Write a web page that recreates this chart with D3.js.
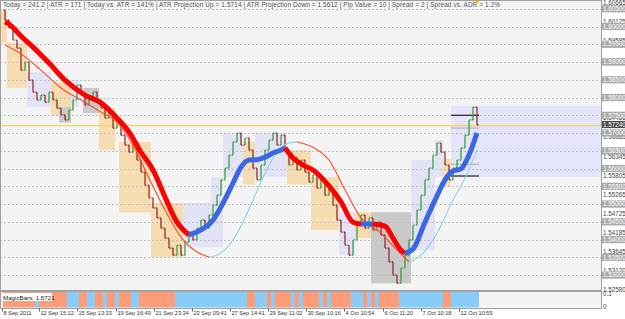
<!DOCTYPE html>
<html>
<head>
<meta charset="utf-8">
<script src="https://cdn.jsdelivr.net/npm/d3@7"></script>
<style>
  html, body { margin: 0; padding: 0; background: #fff; }
  svg { display: block; font-family: "Liberation Sans", Arial, sans-serif; }
</style>
</head>
<body>
<div id="vis-display"></div>
<script>
// MagicBars range-bar chart (GBPUSD-like), 8 Sep – 12 Oct 2011.
// Bars are indexed 0..118; prices.

const HEADER = [
  "Today = 241.2", "ATR = 171", "Today vs. ATR = 141%",
  "ATR Projection Up = 1.5714", "ATR Projection Down = 1.5612",
  "Pip Value = 10", "Spread = 2", "Spread vs. ADR = 1.2%"
];

const FIRST_OPEN = 1.6046;
const closes = [
  1.6018, 1.5996, 1.5962, 1.5939, 1.5877, 1.5900, 1.5849, 1.5815, 1.5793, 1.5807,
  1.5787, 1.5815, 1.5793, 1.5770, 1.5751, 1.5737, 1.5765, 1.5793, 1.5835, 1.5807,
  1.5779, 1.5799, 1.5815, 1.5793, 1.5770, 1.5742, 1.5759, 1.5714, 1.5731, 1.5694,
  1.5666, 1.5646, 1.5666, 1.5624, 1.5590, 1.5553, 1.5517, 1.5489, 1.5461, 1.5432,
  1.5404, 1.5376, 1.5356, 1.5384, 1.5356, 1.5393, 1.5421, 1.5399, 1.5432, 1.5455,
  1.5432, 1.5469, 1.5497, 1.5525, 1.5568, 1.5601, 1.5638, 1.5675, 1.5700, 1.5666,
  1.5686, 1.5652, 1.5601, 1.5568, 1.5610, 1.5652, 1.5680, 1.5700, 1.5666, 1.5694,
  1.5652, 1.5610, 1.5630, 1.5596, 1.5624, 1.5590, 1.5562, 1.5582, 1.5545, 1.5568,
  1.5525, 1.5545, 1.5497, 1.5455, 1.5421, 1.5384, 1.5356, 1.5399, 1.5441, 1.5469,
  1.5432, 1.5461, 1.5427, 1.5449, 1.5413, 1.5376, 1.5337, 1.5300, 1.5277, 1.5320,
  1.5356, 1.5399, 1.5441, 1.5483, 1.5525, 1.5568, 1.5601, 1.5638, 1.5672, 1.5646,
  1.5610, 1.5568, 1.5601, 1.5624, 1.5658, 1.5694, 1.5737, 1.5773, 1.5723
];

// thick staircase average: [bar, price]
const fastMA = [
  [0, 1.6013], [1, 1.6007], [4, 1.5973], [7, 1.5942], [11, 1.5897], [15, 1.5849],
  [20, 1.5807], [24, 1.5785], [28, 1.5742], [31, 1.5703], [34, 1.5646], [37, 1.5596],
  [40, 1.5520], [43, 1.5449], [46, 1.5413], [49, 1.5427], [52, 1.5455], [54, 1.5492],
  [57, 1.5559], [59, 1.5604], [61, 1.5624], [63, 1.5625], [65, 1.5632], [67, 1.5644],
  [69, 1.5652], [70, 1.5658], [72, 1.5630], [75, 1.5607], [77, 1.5596], [81, 1.5551],
  [84, 1.5506], [87, 1.5449], [89, 1.5444], [92, 1.5444], [95, 1.5438], [97, 1.5404],
  [99, 1.5370], [100, 1.5362], [102, 1.5373], [105, 1.5449], [108, 1.5523], [110, 1.5568],
  [112, 1.5593], [114, 1.5599], [116, 1.5638], [118, 1.5700]
];

// thin slow average: [bar, price]
const slowMA = [
  [0, 1.5948], [4, 1.5923], [9, 1.5877], [14, 1.5827], [19, 1.5793], [24, 1.5759],
  [28, 1.5731], [32, 1.5666], [36, 1.5573], [40, 1.5483], [44, 1.5407], [48, 1.5365],
  [51, 1.5351], [53, 1.5356], [56, 1.5384], [59, 1.5438], [62, 1.5511], [65, 1.5587],
  [68, 1.5646], [71, 1.5672], [73, 1.5675], [77, 1.5660], [81, 1.5624], [85, 1.5540],
  [89, 1.5461], [94, 1.5418], [98, 1.5370], [101, 1.5337], [104, 1.5356], [108, 1.5418],
  [112, 1.5511], [115, 1.5573], [118, 1.5652]
];

// daily range boxes: [firstBar, lastBar, high, low, kind]
const dayBoxes = [
  [-1, 0, 1.6046, 1.5954, "dn"], [1, 5, 1.5954, 1.5827, "dn"], [6, 11, 1.5872, 1.5773, "up"],
  [12, 16, 1.5844, 1.5750, "dn"], [14, 16, 1.5773, 1.5729, "flat"], [17, 18, 1.5849, 1.5773, "up"],
  [20, 23, 1.5827, 1.5756, "flat"], [24, 27, 1.5770, 1.5652, "dn"], [29, 36, 1.5675, 1.5477, "dn"],
  [37, 44, 1.5503, 1.5351, "dn"], [45, 51, 1.5503, 1.5379, "up"], [52, 54, 1.5576, 1.5379, "up"],
  [55, 59, 1.5700, 1.5576, "up"], [60, 62, 1.5675, 1.5555, "dn"], [63, 70, 1.5700, 1.5576, "up"],
  [71, 76, 1.5652, 1.5555, "dn"], [77, 83, 1.5576, 1.5427, "dn"], [84, 87, 1.5477, 1.5356, "up"],
  [88, 91, 1.5477, 1.5404, "dn"], [92, 101, 1.5477, 1.5277, "flat"], [102, 107, 1.5624, 1.5370, "up"],
  [108, 109, 1.5680, 1.5576, "up"], [110, 111, 1.5627, 1.5550, "dn"]
];

const ATR_BOX    = [1.5776, 1.5576];   // projected range for today
const TODAY_HILO = [1.5750, 1.5579];
const ATR_UP     = 1.5714;
const ATR_DOWN   = 1.5612;
const MAGIC      = 1.5721;
const LAST_PRICE = 1.5724;

// MagicBars histogram as runs: [bars, isUp]
const magicRuns = [
  [8, 0], [1, 1], [7, 0], [3, 1], [2, 0], [2, 1], [2, 0], [1, 1], [2, 0], [1, 1],
  [3, 0], [2, 1], [9, 0], [18, 1], [2, 0], [3, 1], [1, 0], [1, 1], [4, 0], [1, 1],
  [1, 0], [1, 1], [4, 0], [1, 1], [1, 0], [1, 1], [5, 0], [3, 1], [1, 0], [1, 1],
  [1, 0], [1, 1], [5, 0], [11, 1], [2, 0], [7, 1]
];
const MAGIC_TOP = 0.115;

const gridLevels = [1.605, 1.600, 1.595, 1.590, 1.585, 1.580, 1.575, 1.570,
                    1.565, 1.560, 1.555, 1.550, 1.545, 1.540, 1.535, 1.530];
const scaleLabels = [1.52580, 1.53120, 1.53645, 1.54185, 1.54725, 1.55265, 1.55805, 1.56345,
                     1.56885, 1.57425, 1.57965, 1.58505, 1.59045, 1.59585, 1.60125, 1.60665];

const timeTicks  = [-0.75, 8.5, 18, 27.75, 37.25, 46.75, 56.25, 65.75, 75.25, 84.75, 94.5, 104, 113.5];
const timeLabels = ["8 Sep 2011", "12 Sep 15:12", "15 Sep 13:33", "19 Sep 16:49", "21 Sep 23:34",
                    "23 Sep 09:41", "27 Sep 14:41", "29 Sep 11:02", "30 Sep 10:16", "4 Oct 10:54",
                    "6 Oct 11:20", "7 Oct 10:18", "12 Oct 10:59"];

// ── Layout ───────────────────────────────────────────────────────────────────

const W = 625, H = 319;
const PLOT_R = 601, MAIN_B = 290, SUB_T = 291, SUB_B = 308;

const BOX_FILL = { dn: "#f6dcb1", up: "#e3e3f8", flat: "#c9c9c9" };

const svg = d3.select("#vis-display").append("svg")
  .attr("width", W).attr("height", H);

svg.append("defs").append("clipPath").attr("id", "clipMain")
  .append("rect").attr("x", 0).attr("y", 0).attr("width", PLOT_R).attr("height", MAIN_B);

const x    = d3.scaleLinear().domain([0, 118]).range([5, 477]);
const y    = d3.scaleLinear().domain([1.5258, 1.6069]).range([MAIN_B, 2]);
const ySub = d3.scaleLinear().domain([0, MAGIC_TOP]).range([SUB_B - 0.5, SUB_T + 1]);

svg.append("rect")
  .attr("x", 0).attr("y", 0).attr("width", PLOT_R).attr("height", SUB_B)
  .attr("fill", "#f4f4f4");

const main = svg.append("g").attr("clip-path", "url(#clipMain)");

// ── Day boxes + ATR projection ───────────────────────────────────────────────

main.append("rect")
  .attr("x", x(111.5)).attr("width", PLOT_R - x(111.5))
  .attr("y", y(ATR_BOX[0])).attr("height", y(ATR_BOX[1]) - y(ATR_BOX[0]))
  .attr("fill", "#e4e4fa");

main.append("g").selectAll("rect")
  .data([...dayBoxes].sort((a, b) => (a[4] === "flat") - (b[4] === "flat")))
  .join("rect")
    .attr("x", d => x(d[0] - 0.5))
    .attr("width", d => x(d[1] + 0.5) - x(d[0] - 0.5))
    .attr("y", d => y(d[2]))
    .attr("height", d => y(d[3]) - y(d[2]))
    .attr("fill", d => BOX_FILL[d[4]]);

// ── Grid ─────────────────────────────────────────────────────────────────────

main.append("g").selectAll("line")
  .data(gridLevels)
  .join("line")
    .attr("x1", 0).attr("x2", PLOT_R)
    .attr("y1", d => Math.round(y(d)) + 0.5).attr("y2", d => Math.round(y(d)) + 0.5)
    .attr("stroke", "#bdbdbd").attr("stroke-dasharray", "2,2");

main.append("line")
  .attr("x1", 0).attr("x2", PLOT_R)
  .attr("y1", y(MAGIC)).attr("y2", y(MAGIC))
  .attr("stroke", "#f3d462").attr("stroke-width", 1.2);

// today's levels
const todayLines = [
  { p: TODAY_HILO[0], c: "#222" }, { p: TODAY_HILO[1], c: "#222" },
  { p: ATR_UP, c: "#b4b4b4" }, { p: ATR_DOWN, c: "#b4b4b4" }
];
main.append("g").selectAll("line")
  .data(todayLines)
  .join("line")
    .attr("x1", x(111.5)).attr("x2", x(118.5))
    .attr("y1", d => y(d.p)).attr("y2", d => y(d.p))
    .attr("stroke", d => d.c).attr("stroke-width", 1.2);

// ── Range bars ───────────────────────────────────────────────────────────────

const bars = closes.map((c, i) => ({ i, o: i === 0 ? FIRST_OPEN : closes[i - 1], c }));
const barG = main.append("g")
  .selectAll("g")
  .data(bars)
  .join("g")
    .attr("stroke", d => d.c >= d.o ? "#2f9a2f" : "#8e1f1f")
    .attr("stroke-width", 1.2);

barG.append("line")
  .attr("x1", d => x(d.i)).attr("x2", d => x(d.i))
  .attr("y1", d => y(d.o)).attr("y2", d => y(d.c));
barG.append("line")
  .attr("x1", d => x(d.i) - 1.5).attr("x2", d => x(d.i))
  .attr("y1", d => y(d.o)).attr("y2", d => y(d.o));
barG.append("line")
  .attr("x1", d => x(d.i)).attr("x2", d => x(d.i) + 1.5)
  .attr("y1", d => y(d.c)).attr("y2", d => y(d.c));

// ── Averages, coloured by slope ─────────────────────────────────────────────

function slopeRuns(pts) {
  const out = [];
  for (let k = 1; k < pts.length; k++) {
    const up = pts[k][1] >= pts[k - 1][1];
    const last = out[out.length - 1];
    if (last && last.up === up) last.pts.push(pts[k]);
    else out.push({ up, pts: [pts[k - 1], pts[k]] });
  }
  return out;
}

const line = d3.line().x(d => x(d[0])).y(d => y(d[1])).curve(d3.curveMonotoneX);

main.append("g").selectAll("path")
  .data(slopeRuns(slowMA))
  .join("path")
    .attr("d", d => line(d.pts))
    .attr("fill", "none")
    .attr("stroke", d => d.up ? "#8fd2e6" : "#ff4a26")
    .attr("stroke-width", 1.1);

main.append("g").selectAll("path")
  .data(slopeRuns(fastMA))
  .join("path")
    .attr("d", d => line(d.pts))
    .attr("fill", "none")
    .attr("stroke", d => d.up ? "#3b66e4" : "#ff0000")
    .attr("stroke-width", 5);

// ── Header ───────────────────────────────────────────────────────────────────

svg.append("text")
  .attr("x", 3).attr("y", 7)
  .attr("textLength", 497).attr("lengthAdjust", "spacing")
  .style("font-size", "6.4px").style("fill", "#555")
  .text(HEADER.join("   |   "));

svg.append("path")
  .attr("d", "M474,0 L480,0 L477,4 Z")
  .attr("fill", "#f2c200");

// ── MagicBars sub-window ────────────────────────────────────────────────────

const magicBars = magicRuns.flatMap(([n, up]) => d3.range(n).map(() => up));
svg.append("g").selectAll("rect")
  .data(magicBars)
  .join("rect")
    .attr("x", (d, i) => x(i) - 2)
    .attr("width", 4)
    .attr("y", ySub(MAGIC_TOP))
    .attr("height", ySub(0) - ySub(MAGIC_TOP))
    .attr("fill", d => d ? "#87cdf7" : "#ff9c78");

svg.append("rect")
  .attr("x", 2).attr("y", SUB_T + 2).attr("width", 50).attr("height", 8)
  .attr("fill", "#fff");
svg.append("text")
  .attr("x", 3).attr("y", SUB_T + 8.5)
  .style("font-size", "6.2px").style("fill", "#222")
  .text("MagicBars: " + MAGIC.toFixed(4));

// ── Frames ───────────────────────────────────────────────────────────────────

svg.append("rect")
  .attr("x", 0.5).attr("y", 0.5).attr("width", PLOT_R).attr("height", MAIN_B)
  .attr("fill", "none").attr("stroke", "#a0a0a0");
svg.append("rect")
  .attr("x", 0.5).attr("y", SUB_T + 0.5).attr("width", PLOT_R).attr("height", SUB_B - SUB_T)
  .attr("fill", "none").attr("stroke", "#a0a0a0");

// ── Price scale ──────────────────────────────────────────────────────────────

const fmt5 = d3.format(".5f");
svg.append("g").selectAll("text")
  .data(scaleLabels)
  .join("text")
    .attr("x", 603).attr("y", d => y(d)).attr("dy", "0.35em")
    .style("font-size", "6.3px").style("fill", "#444")
    .text(fmt5);

const boxes = gridLevels.map(p => ({ p, fill: "#a9a9a9" }))
  .concat([{ p: LAST_PRICE, fill: "#4b4b4b" }]);
const lab = svg.append("g").selectAll("g")
  .data(boxes)
  .join("g")
    .attr("transform", d => `translate(602,${y(d.p)})`);
lab.append("rect")
  .attr("x", 0).attr("y", -3.6).attr("width", 23).attr("height", 7.2)
  .attr("fill", d => d.fill);
lab.append("text")
  .attr("x", 1).attr("dy", "0.35em")
  .style("font-size", "6.3px").style("fill", "#fff")
  .text(d => fmt5(d.p));

svg.append("g").selectAll("text")
  .data([0.1, 0])
  .join("text")
    .attr("x", 603).attr("y", d => ySub(d)).attr("dy", "0.3em")
    .style("font-size", "6.3px").style("fill", "#444")
    .text(d => d);

// ── Time axis ────────────────────────────────────────────────────────────────

svg.append("g")
  .attr("transform", `translate(0,${SUB_B + 0.5})`)
  .call(d3.axisBottom(x).tickValues(timeTicks).tickSize(3)
    .tickFormat((d, i) => timeLabels[i]))
  .call(ax => ax.select(".domain").remove())
  .call(ax => ax.selectAll(".tick line").attr("stroke", "#666"))
  .selectAll("text")
    .attr("y", 2.5)
    .attr("dx", 1)
    .attr("text-anchor", "start")
    .style("font-family", "'Liberation Sans', Arial, sans-serif")
    .style("font-size", "5.6px")
    .style("fill", "#333");
</script>
</body>
</html>
